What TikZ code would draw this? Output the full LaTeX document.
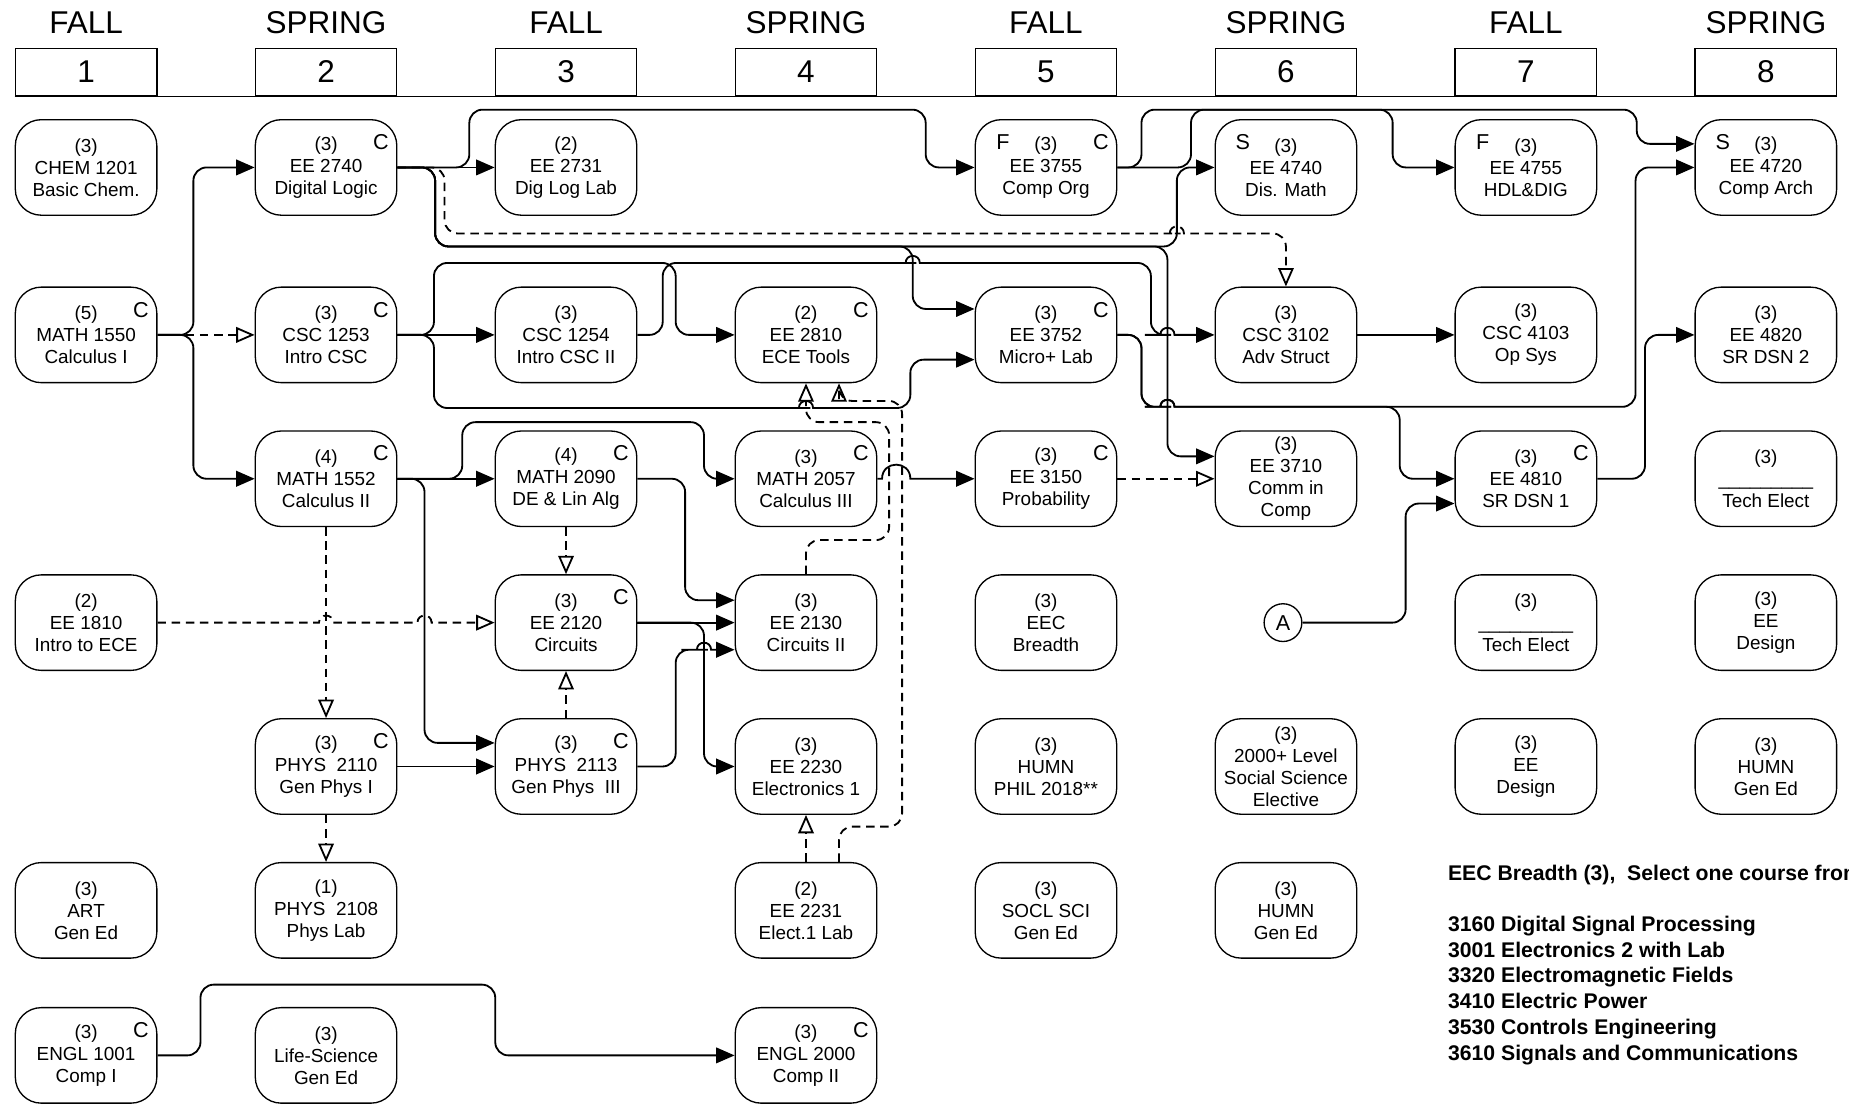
\documentclass[tikz,border=0pt]{standalone}
\usepackage{fontspec}
\setmainfont{Liberation Sans}
\usetikzlibrary{arrows.meta}

\newcommand{\hop}[3]{[sharp corners] -- (#1-#3,#2) .. controls (#1-#3,#2-1.33*#3) and (#1+#3,#2-1.33*#3) .. (#1+#3,#2) -- (#1+#3+1,#2) [rounded corners=2.8mm]}

\begin{document}
\begin{tikzpicture}[x=0.25mm, y=-0.25mm, >={Triangle[length=3.9mm, width=3.3mm]},
    course/.style={draw, line width=0.8pt, rounded corners=5.5mm, minimum width=30mm, minimum height=20.25mm, inner sep=0pt, align=center, font=\fontsize{11.4}{13.3}\selectfont},
    cmark/.style={label={[font=\fontsize{13}{13}\selectfont, anchor=center, xshift=-3.5mm, yshift=-4.9mm]north east:C}},
    fmark/.style={label={[font=\fontsize{13}{13}\selectfont, anchor=center, xshift=6mm, yshift=-4.9mm]north west:F}},
    smark/.style={label={[font=\fontsize{13}{13}\selectfont, anchor=center, xshift=6mm, yshift=-4.9mm]north west:S}},
    term/.style={font=\fontsize{19}{19}\selectfont},
    semester/.style={draw, line width=0.8pt, minimum width=30mm, minimum height=10mm, font=\fontsize{19}{19}\selectfont},
    req/.style={->, line width=1.1pt, rounded corners=2.8mm},
    coreq/.style={-{Triangle[open, length=3.9mm, width=3.3mm]}, line width=1.1pt, rounded corners=2.8mm, dash pattern=on 1.8mm off 1.2mm},
    breadth/.style={anchor=base west, font=\bfseries\fontsize{12.8}{15.4}\selectfont}]
  \fill[white] (0,0) rectangle (1568,937);
  \useasboundingbox (0,0) rectangle (1568,937);

  \foreach \t [count=\i] in {FALL,SPRING,FALL,SPRING,FALL,SPRING,FALL,SPRING} {
    \node[term] (term\i) at ({73+203.5*(\i-1)},19) {\t};
    \node[semester] (sem\i) at ({73+203.5*(\i-1)},61) {\i};
  }
  \draw[line width=0.8pt] (sem1.south west) -- (sem8.south east);

  \node[course] (chem1201) at (73,142) {(3)\\CHEM 1201\\Basic Chem.};
  \node[course, cmark] (math1550) at (73,284) {(5)\\MATH 1550\\Calculus I};
  \node[course] (ee1810) at (73,528) {(2)\\EE 1810\\Intro to ECE};
  \node[course] (art) at (73,772) {(3)\\ART\\Gen Ed};
  \node[course, cmark] (engl1001) at (73,895) {(3)\\ENGL 1001\\Comp I};

  \node[course, cmark] (ee2740) at (276.5,142) {(3)\\EE 2740\\Digital Logic};
  \node[course, cmark] (csc1253) at (276.5,284) {(3)\\CSC 1253\\Intro CSC};
  \node[course, cmark] (math1552) at (276.5,406) {(4)\\MATH 1552\\Calculus II};
  \node[course, cmark] (phys2110) at (276.5,650) {(3)\\PHYS\ \ 2110\\Gen Phys I};
  \node[course] (phys2108) at (276.5,772) {(1)\\PHYS\ \ 2108\\Phys Lab};
  \node[course] (lifesci) at (276.5,895) {(3)\\Life-Science\\Gen Ed};

  \node[course] (ee2731) at (480,142) {(2)\\EE 2731\\Dig Log Lab};
  \node[course] (csc1254) at (480,284) {(3)\\CSC 1254\\Intro CSC II};
  \node[course, cmark] (math2090) at (480,406) {(4)\\MATH 2090\\DE \& Lin Alg};
  \node[course, cmark] (ee2120) at (480,528) {(3)\\EE 2120\\Circuits};
  \node[course, cmark] (phys2113) at (480,650) {(3)\\PHYS\ \ 2113\\Gen Phys\ \ III};

  \node[course, cmark] (ee2810) at (683.5,284) {(2)\\EE 2810\\ECE Tools};
  \node[course, cmark] (math2057) at (683.5,406) {(3)\\MATH 2057\\Calculus III};
  \node[course] (ee2130) at (683.5,528) {(3)\\EE 2130\\Circuits II};
  \node[course] (ee2230) at (683.5,650) {(3)\\EE 2230\\Electronics 1};
  \node[course] (ee2231) at (683.5,772) {(2)\\EE 2231\\Elect.1 Lab};
  \node[course, cmark] (engl2000) at (683.5,895) {(3)\\ENGL 2000\\Comp II};

  \node[course, fmark, cmark] (ee3755) at (887,142) {(3)\\EE 3755\\Comp Org};
  \node[course, cmark] (ee3752) at (887,284) {(3)\\EE 3752\\Micro+ Lab};
  \node[course, cmark] (ee3150) at (887,406) {(3)\\EE 3150\\Probability};
  \node[course] (eecbreadth) at (887,528) {(3)\\EEC\\Breadth};
  \node[course] (humnphil) at (887,650) {(3)\\HUMN\\PHIL 2018**};
  \node[course] (soclsci) at (887,772) {(3)\\SOCL SCI\\Gen Ed};

  \node[course, smark] (ee4740) at (1090.5,142) {(3)\\EE 4740\\Dis. Math};
  \node[course] (csc3102) at (1090.5,284) {(3)\\CSC 3102\\Adv Struct};
  \node[course] (ee3710) at (1090.5,406) {(3)\\EE 3710\\Comm in\\Comp};
  \node[draw, circle, line width=0.8pt, minimum size=8mm, inner sep=0pt, font=\fontsize{13}{13}\selectfont] (conA) at (1088,528) {A};
  \node[course] (socsci) at (1090.5,650) {(3)\\2000+ Level\\Social Science\\Elective};
  \node[course] (humn6) at (1090.5,772) {(3)\\HUMN\\Gen Ed};

  \node[course, fmark] (ee4755) at (1294,142) {(3)\\EE 4755\\HDL\&DIG};
  \node[course] (csc4103) at (1294,284) {(3)\\CSC 4103\\Op Sys};
  \node[course, cmark] (ee4810) at (1294,406) {(3)\\EE 4810\\SR DSN 1};
  \node[course] (tech7) at (1294,528) {(3)\\\_\_\_\_\_\_\_\_\_\\Tech Elect};
  \node[course] (eedes7) at (1294,650) {(3)\\EE\\Design};

  \node[course, smark] (ee4720) at (1497.5,142) {(3)\\EE 4720\\Comp Arch};
  \node[course] (ee4820) at (1497.5,284) {(3)\\EE 4820\\SR DSN 2};
  \node[course] (tech8) at (1497.5,406) {(3)\\\_\_\_\_\_\_\_\_\_\\Tech Elect};
  \node[course] (eedes8) at (1497.5,528) {(3)\\EE\\Design};
  \node[course] (humn8) at (1497.5,650) {(3)\\HUMN\\Gen Ed};

  \node[breadth] (breadthhead) at (1223,747) {EEC Breadth (3),\ \ Select one course from};
  \foreach \t [count=\i] in {3160 Digital Signal Processing, 3001 Electronics 2 with Lab, 3320 Electromagnetic Fields, 3410 Electric Power, 3530 Controls Engineering, 3610 Signals and Communications}
    \node[breadth] (pick\i) at (1223,{790+21.8*(\i-1)}) {\t};

  \draw[coreq] (math1550.east) -- (csc1253.west);
  \draw[coreq] (ee2740.east) -- (377,142) |- (990,198) \hop{998}{198}{6} -| (csc3102.north);
  \draw[coreq] (math1552.south) -- (phys2110.north);
  \draw[coreq] (ee1810.east) \hop{276.5}{528}{6} \hop{360}{528}{6} -- (ee2120.west);
  \draw[coreq] (math2090.south) -- (ee2120.north);
  \draw[coreq] (phys2113.north) -- (ee2120.south);
  \draw[coreq] (phys2110.south) -- (phys2108.north);
  \draw[coreq] (ee2130.north) |- (754,458) -- (754,358) -| (ee2810.south);
  \draw[coreq] ([xshift=7mm]ee2231.north) |- (765,701) -- (765,340) -| ([xshift=7mm]ee2810.south);
  \draw[coreq] (ee2231.north) -- (ee2230.south);
  \draw[coreq] (ee3150.east) -- (ee3710.west);

  \draw[req] (math1550.east) -- (164,284) |- (ee2740.west);
  \draw[req] (math1550.east) -- (164,284) |- (math1552.west);
  \draw[req] (ee2740.east) -- (ee2731.west);
  \draw[req] (ee2740.east) -- (398,142) |- (785,93) |- (ee3755.west);
  \draw[req] (ee2740.east) -- (369,142) |- (774,209) |- ([yshift=5.5mm]ee3752.west);
  \draw[req] (ee2740.east) -- (369,142) |- (998,209) |- (ee4740.west);
  \draw[req] (ee2740.east) -- (369,142) |- (990,209) |- ([yshift=4.75mm]ee3710.west);
  \draw[req] (csc1253.east) -- (csc1254.west);
  \draw[req] (csc1253.east) -- (368,284) |- (573,223) |- (ee2810.west);
  \draw[req] (csc1253.east) -- (368,284) |- (676,346) \hop{683.5}{346}{6} -- (772,346) |- ([yshift=-5.25mm]ee3752.west);
  \draw[req] (csc1254.east) -- (562,284) |- (766,223) \hop{774}{223}{6} -- (976,223) -- (976,284) -- (982,284) \hop{990}{284}{6} -- (csc3102.west);
  \draw[req] (math1552.east) -- (math2090.west);
  \draw[req] (math1552.east) -- (392,406) |- (597,358) |- (math2057.west);
  \draw[req] (math1552.east) -- (360,406) |- ([yshift=5mm]phys2113.west);
  \draw[req] (math2090.east) -- (581,406) |- ([yshift=4.75mm]ee2130.west);
  \draw[req] (ee2120.east) -- (ee2130.west);
  \draw[req] (ee2120.east) -- (597,528) |- (ee2230.west);
  \draw[req] (phys2110.east) -- (phys2113.west);
  \draw[req] (phys2113.east) -- (573,650) |- (589,551) \hop{597}{551}{6} -- ([yshift=-5.75mm]ee2130.west);
  \draw[req] (math2057.east) \hop{760}{406}{12} -- (ee3150.west);
  \draw[req] (ee3755.east) -- (968,142) |- (1181,93) |- (ee4755.west);
  \draw[req] (ee3755.east) -- (1010,142) |- (1388,93) |- ([yshift=5mm]ee4720.west);
  \draw[req] (ee3752.east) -- (968,284) |- (982,345) \hop{990}{345}{6} -- (1387,345) |- (ee4720.west);
  \draw[req] (ee3752.east) -- (968,284) |- (982,345) \hop{990}{345}{6} -- (1187,345) |- (ee4810.west);
  \draw[req] (csc3102.east) -- (csc4103.west);
  \draw[req] (ee4810.east) -- (1395,406) |- (ee4820.west);
  \draw[req] (conA.east) -- (1192,528) |- ([yshift=-5.25mm]ee4810.west);
  \draw[req] (engl1001.east) -- (170,895) |- (420,835) |- (engl2000.west);
\end{tikzpicture}
\end{document}
